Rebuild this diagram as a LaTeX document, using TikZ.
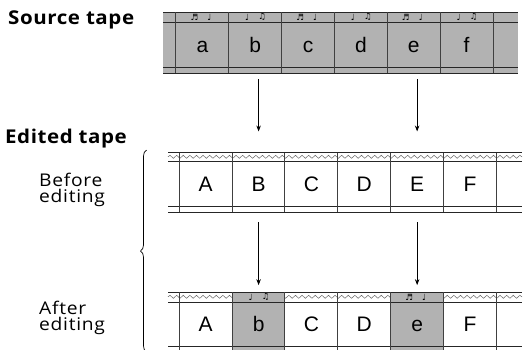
\documentclass[tikz,border=0pt]{standalone}
\usepackage{fontspec}
\setmainfont{Open Sans}
\newfontfamily\headfont[FakeStretch=1.08, LetterSpace=3]{Open Sans}
\newfontfamily\sidefont[FakeStretch=1.1, LetterSpace=4]{Open Sans}
\newfontfamily\cellfont{Liberation Sans}
\newfontfamily\notefont{DejaVu Sans}
\usetikzlibrary{arrows.meta, positioning, decorations.pathmorphing, decorations.pathreplacing}

\tikzstyle{cell} = [minimum width=52.85pt, minimum height=45pt, inner sep=0pt, text height=15pt, text depth=0pt, font=\cellfont\fontsize{21}{21}\selectfont]
\tikzstyle{tapeline} = [line width=0.9pt, black!85]
\tikzstyle{cellline} = [line width=0.8pt, black!75]
\tikzstyle{wave} = [decorate, decoration={snake, segment length=6.6pt, amplitude=1.5pt}, line width=0.5pt, black!60]
\tikzstyle{notes} = [font=\notefont\fontsize{8.5}{8.5}\selectfont, inner sep=0pt]
\tikzstyle{heading} = [font=\headfont\bfseries\fontsize{19}{19}\selectfont, anchor=base west, inner sep=0pt]
\tikzstyle{sidetext} = [font=\sidefont\fontsize{17.5}{16}\selectfont, align=left, anchor=base west, inner sep=0pt]
\tikzstyle{arrow} = [line width=0.8pt, -{Stealth[length=6pt, width=4.5pt]}]
\tikzstyle{tapefill} = [fill=black!30]

\begin{document}
\begin{tikzpicture}[x=1pt, y=-1pt, node distance=52.85pt]
\useasboundingbox (0,0) rectangle (523,349);

% headings
\node (srchead) [heading] at (8,24.5) {Source tape};
\node (edithead) [heading] at (5,143) {Edited tape};
\node (before) [sidetext] at (39,202) {Before\\editing};
\node (after) [sidetext] at (39,330) {After\\editing};

% source tape
\fill[tapefill] (163,12.3) rectangle (518,73.3);
\node (sa) [cell] at (202.4,44.8) {a};
\node (sb) [cell, right of=sa] {b};
\node (sc) [cell, right of=sb] {c};
\node (sd) [cell, right of=sc] {d};
\node (se) [cell, right of=sd] {e};
\node (sf) [cell, right of=se] {f};
\foreach \y in {12.3,22.3,67.3,73.3}
  \draw[tapeline] (163,\y) -- (518,\y);
\foreach \c in {sa,sb,sc,sd,se,sf}
  \draw[cellline] (\c.north west) ++(0,-10) -- ++(0,61);
\draw[cellline] (sf.north east) ++(0,-10) -- ++(0,61);
\foreach \c/\l/\r in {sa/♬/♩, sb/♩/♫, sc/♬/♩, sd/♩/♫, se/♬/♩, sf/♩/♫} {
  \node (\c l) [notes] at ([xshift=-8pt, yshift=5pt]\c.north) {\l};
  \node (\c r) [notes] at ([xshift=7pt, yshift=5pt]\c.north) {\r};
}

% edited tape, before editing
\draw[wave] (168,156.8) -- (522,156.8);
\node (ba) [cell] at (205.75,184.2) {A};
\node (bb) [cell, right of=ba] {B};
\node (bc) [cell, right of=bb] {C};
\node (bd) [cell, right of=bc] {D};
\node (be) [cell, right of=bd] {E};
\node (bf) [cell, right of=be] {F};
\foreach \y in {152.7,161.7,206.7,212.3}
  \draw[tapeline] (168,\y) -- (522,\y);
\foreach \c in {ba,bb,bc,bd,be,bf}
  \draw[cellline] (\c.north west) ++(0,-9) -- ++(0,59.6);
\draw[cellline] (bf.north east) ++(0,-9) -- ++(0,59.6);

% edited tape, after editing
\draw[wave] (168,296.8) -- (522,296.8);
\node (aa) [cell] at (205.75,324.35) {A};
\node (ab) [cell, right of=aa] {};
\node (ac) [cell, right of=ab] {C};
\node (ad) [cell, right of=ac] {D};
\node (ae) [cell, right of=ad] {};
\node (af) [cell, right of=ae] {F};
\fill[tapefill] ([yshift=9.3pt]ab.north west) rectangle ([yshift=-12pt]ab.south east);
\fill[tapefill] ([yshift=9.3pt]ae.north west) rectangle ([yshift=-12pt]ae.south east);
\node (abtext) [cell] at (ab) {b};
\node (aetext) [cell] at (ae) {e};
\node (abl) [notes] at ([xshift=-8pt, yshift=4.6pt]ab.north) {♩};
\node (abr) [notes] at ([xshift=7pt, yshift=4.6pt]ab.north) {♫};
\node (ael) [notes] at ([xshift=-8pt, yshift=4.6pt]ae.north) {♬};
\node (aer) [notes] at ([xshift=7pt, yshift=4.6pt]ae.north) {♩};
\foreach \y in {292.7,302,346.7,352.3}
  \draw[tapeline] (168,\y) -- (522,\y);
\foreach \c in {aa,ab,ac,ad,ae,af}
  \draw[cellline] (\c.north west) ++(0,-9.3) -- ++(0,65);
\draw[cellline] (af.north east) ++(0,-9.3) -- ++(0,65);

% arrows
\draw[arrow, shorten <=11.7pt, shorten >=30pt] (sb.south -| bb.center) -- (bb.north);
\draw[arrow, shorten <=11.7pt, shorten >=30pt] (se.south -| be.center) -- (be.north);
\draw[arrow, shorten <=15.3pt, shorten >=16.5pt] (bb.south) -- (abtext.north);
\draw[arrow, shorten <=15.3pt, shorten >=16.5pt] (be.south) -- (aetext.north);

% brace
\draw[decorate, decoration={brace, amplitude=6pt}, line width=0.7pt] (146.5,352) -- (146.5,150);

\end{tikzpicture}
\end{document}
